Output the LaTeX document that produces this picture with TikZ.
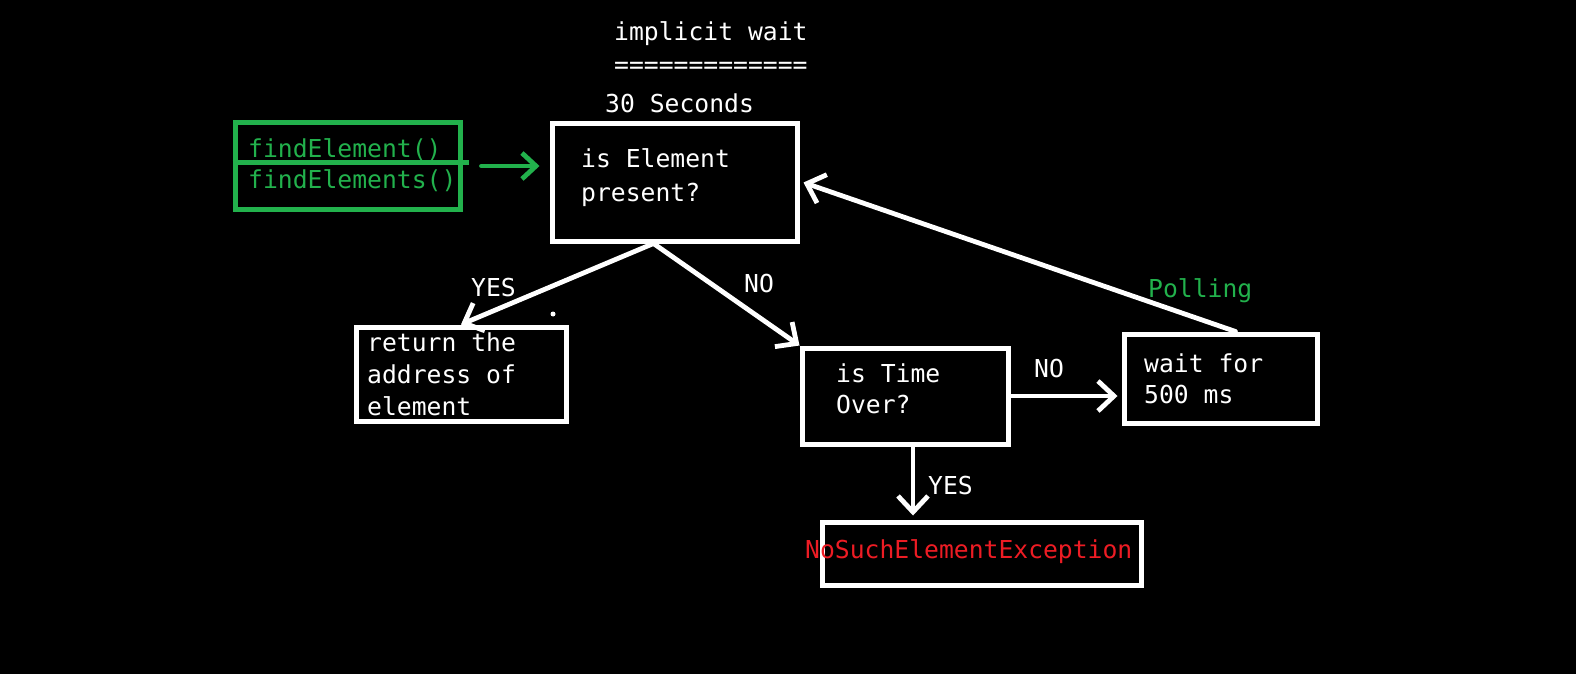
\documentclass[tikz,border=0pt]{standalone}
\usepackage{fontspec}
\newfontfamily\codefont{DejaVu Sans Mono}
\usetikzlibrary{arrows.meta}
\definecolor{paintgreen}{RGB}{34,177,76}
\definecolor{paintred}{RGB}{237,28,36}

\begin{document}
\begin{tikzpicture}[x=1pt, y=-1pt,
  box/.style={draw=white, line width=5pt, inner sep=0pt},
  txt/.style={white, anchor=base west, align=left, inner sep=0pt,
    font=\fontsize{24.7}{32}\codefont},
  flow/.style={white, line width=4.8pt, line cap=round,
    -{Straight Barb[length=16pt,width=30pt]}}]
  \fill[black] (0,0) rectangle (1576,674);

  % header
  \node[txt] (title) at (614,41) {implicit wait};
  \node[txt] (rule) at (614,74) {=============};
  \node[txt] (secs) at (605,113) {30 Seconds};

  % boxes
  \node[box, draw=paintgreen, minimum width=225pt, minimum height=86pt] (find) at (347.5,166) {};
  \node[box, minimum width=245pt, minimum height=117pt] (main) at (674.5,182.5) {};
  \node[box, minimum width=210pt, minimum height=94pt] (ret) at (461,374) {};
  \node[box, minimum width=206pt, minimum height=96pt] (time) at (905,396) {};
  \node[box, minimum width=193pt, minimum height=89pt] (wait) at (1220.5,378.5) {};
  \node[box, minimum width=319pt, minimum height=63pt] (exc) at (981.5,553.5) {};
  \draw[paintgreen, line width=5pt] ([yshift=4pt]find.west) -- ([xshift=6pt,yshift=4pt]find.east);

  % box texts (base = last line)
  \node[txt, paintgreen] (findtxt) at (248,188) {findElement()\\[-1pt]findElements()};
  \node[txt] (maintxt) at (581,201) {is Element\\[2pt]present?};
  \node[txt] (rettxt) at (367,415) {return the\\address of\\element};
  \node[txt] (timetxt) at (836,413) {is Time\\[-1pt]Over?};
  \node[txt] (waittxt) at (1144,403) {wait for\\[-1pt]500 ms};
  \node[txt, paintred] (exctxt) at (805,558) {NoSuchElementException};

  % connectors
  \draw[flow, paintgreen, -{Straight Barb[length=14pt,width=26pt]}]
    ([xshift=19pt]find.east) -- ([xshift=-10pt]find.east -| main.west);
  \draw[flow] ([xshift=-21pt]main.south) -- (ret.north);
  \draw[flow] ([xshift=-21pt]main.south) -- (time.north west);
  \draw[flow] (time.east) -- ([xshift=-4pt]time.east -| wait.west);
  \draw[flow] ([xshift=15pt]wait.north) -- ([xshift=4pt]main.east);
  \draw[flow] ([xshift=8pt]time.south) -- ([xshift=8pt,yshift=4pt]time.south |- exc.north);
  \fill[white] (553,314) circle (2.5pt);

  % labels
  \node[txt] (yes1) at (471,296) {YES};
  \node[txt] (no1) at (744,292) {NO};
  \node[txt] (no2) at (1034,377) {NO};
  \node[txt] (yes2) at (928,494) {YES};
  \node[txt, paintgreen] (poll) at (1148,297) {Polling};
\end{tikzpicture}
\end{document}
